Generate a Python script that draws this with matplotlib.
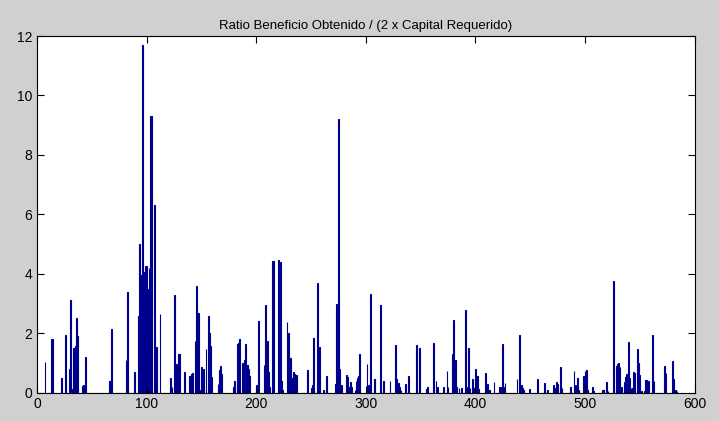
import matplotlib.pyplot as plt
import numpy as np

plt.rcParams['font.family'] = ['Liberation Sans', 'DejaVu Sans']

# bar positions (index) and values; all other bars are 0
idx = [6, 12, 13, 21, 25, 28, 29, 30, 31, 32, 34, 35, 36, 40, 41, 43,
       65, 66, 67, 80, 81, 88,
       91, 92, 93, 94, 95, 96, 97, 98, 99, 100, 101, 102, 103,
       106, 107, 108, 111, 121, 122, 124, 125, 126, 128, 129, 133,
       138, 140, 141, 143, 144, 146, 147, 149, 151, 153, 155, 156, 157, 158,
       164, 165, 166, 167, 178, 179, 182, 183, 184, 186, 187, 188, 189,
       191, 192, 193, 199, 201, 206, 207, 209, 210, 211, 214, 215,
       219, 220, 221, 222, 223, 227, 228, 230, 231, 232, 233, 234, 236,
       246, 249, 250, 251, 255, 257, 260, 263, 271, 272, 274, 275, 277,
       281, 282, 283, 285, 286, 289, 290, 291, 292, 293, 300, 301, 303,
       307, 312, 315, 321, 326, 327, 329, 330, 331, 335, 338, 345, 348,
       354, 355, 361, 363, 364, 370, 373, 374, 378, 379, 380, 381, 382,
       384, 386, 390, 391, 393, 394, 396, 397, 399, 401, 402, 408, 410,
       411, 412, 416, 421, 422, 424, 425, 426, 437, 439, 441, 442, 443,
       448, 456, 462, 465, 470, 471, 473, 474, 477, 478, 486, 489, 490,
       492, 493, 498, 499, 500, 501, 506, 507, 515, 516, 519, 520, 525,
       528, 529, 530, 531, 532, 535, 536, 537, 539, 540, 541, 542, 543,
       544, 547, 548, 549, 551, 553, 554, 555, 557, 561, 562, 572, 573,
       579, 580, 582, 583]
vals = [1.03, 1.8, 1.8, 0.48, 1.93, 0.78, 3.1, 0.12, 0.1, 1.5, 1.55, 2.5, 1.9, 0.22, 0.25, 1.18,
        0.4, 0.4, 2.13, 1.1, 3.39, 0.68,
        2.57, 5.0, 3.95, 1.5, 11.69, 4.05, 3.85, 4.25, 4.25, 3.5, 4.2, 9.32, 9.32,
        6.32, 1.48, 1.52, 2.63, 0.5, 0.2, 3.28, 0.42, 0.95, 1.3, 1.3, 0.69,
        0.57, 0.63, 0.67, 1.75, 3.58, 2.67, 0.1, 0.87, 0.78, 1.45, 2.57, 2.0, 1.55, 0.52,
        0.3, 0.77, 0.9, 0.62, 0.2, 0.4, 1.64, 1.66, 1.81, 0.99, 0.86, 1.1, 1.62,
        0.94, 0.8, 0.57, 0.24, 2.41, 0.91, 2.96, 1.72, 0.69, 0.2, 4.44, 4.44,
        4.45, 0.25, 4.4, 0.38, 0.1, 2.37, 2.0, 1.17, 0.5, 0.5, 0.7, 0.62, 0.6,
        0.76, 0.14, 0.25, 1.85, 3.69, 1.52, 0.1, 0.57, 0.3, 2.98, 9.22, 0.8, 0.25,
        0.58, 0.53, 0.2, 0.36, 0.2, 0.1, 0.4, 0.5, 0.57, 1.28, 0.97, 0.24, 3.33,
        0.45, 2.96, 0.4, 0.4, 1.59, 0.45, 0.33, 0.2, 0.1, 0.3, 0.54, 1.61, 1.49,
        0.12, 0.2, 1.68, 0.4, 0.2, 0.2, 0.74, 0.2, 1.3, 2.43, 0.5, 1.1, 0.2,
        0.15, 0.15, 2.77, 0.2, 1.5, 0.15, 0.44, 0.15, 0.78, 0.55, 0.13, 0.66, 0.3,
        0.1, 0.1, 0.35, 0.2, 0.2, 1.64, 0.2, 0.32, 0.46, 1.93, 0.25, 0.15, 0.1,
        0.12, 0.46, 0.32, 0.1, 0.25, 0.15, 0.35, 0.3, 0.86, 0.14, 0.17, 0.71, 0.25,
        0.5, 0.1, 0.56, 0.72, 0.76, 0.1, 0.19, 0.05, 0.07, 0.07, 0.35, 0.05, 3.75,
        0.89, 0.95, 0.99, 0.86, 0.2, 0.37, 0.53, 0.62, 1.71, 0.5, 0.15, 0.15, 0.7,
        0.65, 1.48, 0.98, 0.6, 0.05, 0.05, 0.42, 0.42, 0.4, 1.93, 0.4, 0.89, 0.66,
        1.05, 0.47, 0.08, 0.05]

n = 584
ratio = np.zeros(n)
ratio[idx] = vals
x = np.arange(1, n + 1)

fig = plt.figure(figsize=(7.19, 4.21), dpi=100, facecolor='#d0d0d0')
ax = fig.add_axes([37.3 / 719, 28.5 / 421, 657.2 / 719, 356.5 / 421])
ax.bar(x, ratio, width=0.8, color='#00008f', edgecolor='#00008f', linewidth=0.8)

ax.set_xlim(0, 600)
ax.set_ylim(0, 12)
ax.set_xticks(range(0, 601, 100))
ax.set_yticks(range(0, 13, 2))
ax.tick_params(direction='in', top=True, right=True, length=5, labelsize=10, width=0.8)
for s in ax.spines.values():
    s.set_linewidth(0.8)
ax.set_title('Ratio Beneficio Obtenido / (2 x Capital Requerido)', fontsize=9.5, pad=5)

fig.savefig('out.png', dpi=100, facecolor=fig.get_facecolor())
